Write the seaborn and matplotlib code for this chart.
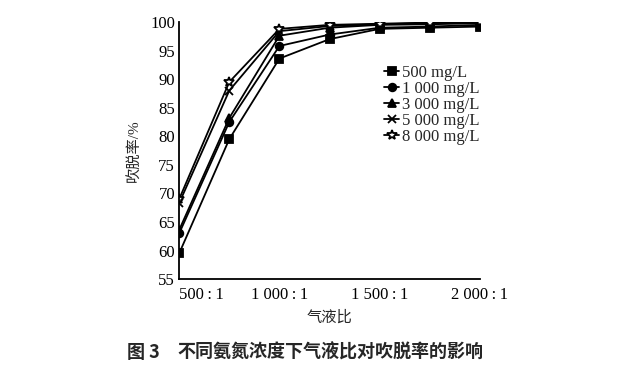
import numpy as np
import pandas as pd
import matplotlib
matplotlib.use("Agg")
import matplotlib.pyplot as plt
import seaborn as sns

# gas/liquid ratio (x:1)
ratio = [500, 750, 1000, 1250, 1500, 1750, 2000]
series_names = ["500 mg/L", "1 000 mg/L", "3 000 mg/L", "5 000 mg/L", "8 000 mg/L"]
rate_500 = [59.5, 79.5, 93.6, 97.0, 98.8, 99.0, 99.2]
rate_1000 = [63.0, 82.5, 95.8, 97.8, 99.0, 99.2, 99.5]
rate_3000 = [63.6, 83.2, 97.6, 99.0, 99.5, 99.6, 99.8]
rate_5000 = [68.3, 88.0, 98.4, 99.3, 99.6, 99.8, 100.0]
rate_8000 = [69.0, 89.5, 98.8, 99.5, 99.7, 99.9, 100.0]

xtick_labels = ["500\u2009:\u20091", "", "1 000\u2009:\u20091", "",
                "1 500\u2009:\u20091", "", "2 000\u2009:\u20091"]

df = pd.DataFrame({
    "ratio": ratio * 5,
    "rate": rate_500 + rate_1000 + rate_3000 + rate_5000 + rate_8000,
    "series": np.repeat(series_names, len(ratio)),
})

sns.set_style("white")
plt.rcParams["font.family"] = ["Liberation Serif", "Noto Sans CJK SC", "DejaVu Sans"]

fig = plt.figure(figsize=(6.2, 3.86), dpi=100)
ax = fig.add_axes([0.289, 0.277, 0.485, 0.666])

markers = ["s", "o", "^", "x", "*"]
for name, m in zip(series_names, markers):
    sub = df[df["series"] == name]
    face = "white" if m == "*" else "black"
    sns.lineplot(data=sub, x="ratio", y="rate", color="black", marker=m,
                 linewidth=1.3, markersize=7 if m == "*" else 5.5,
                 markeredgewidth=1.3, markeredgecolor="black",
                 markerfacecolor=face, label=name, ax=ax)

ax.set_xlim(500, 2000)
ax.set_ylim(55, 100)
ax.set_yticks(range(55, 101, 5))
ax.set_xticks(range(500, 2001, 250))
ax.set_xticklabels(xtick_labels)
ax.tick_params(direction="in", length=4, width=1, labelsize=12, colors="black")
ax.tick_params(axis="x", pad=6)
ax.tick_params(axis="y", pad=3)
# first label sits to the right of its tick, as in the original
ax.get_xticklabels()[0].set_horizontalalignment("left")
for s in ["top", "right"]:
    ax.spines[s].set_visible(False)
for s in ["left", "bottom"]:
    ax.spines[s].set_color("black")
    ax.spines[s].set_linewidth(1.3)

ax.set_xlabel("气液比", fontsize=11, labelpad=5)
ax.set_ylabel("吹脱率/%", fontsize=11, labelpad=6)

ax.legend(loc="upper left", bbox_to_anchor=(0.66, 0.86), frameon=False,
          fontsize=12, handlelength=0.9, handletextpad=0.15,
          labelspacing=0.0, borderaxespad=0)

cap_y = 1 - 352 / 386
fig.text(127 / 620, cap_y, "图 3", fontsize=13, fontweight="bold",
         va="center", family=["Noto Sans CJK SC"])
fig.text(177 / 620, cap_y, "不同氨氮浓度下气液比对吹脱率的影响",
         fontsize=13, fontweight="bold", va="center",
         family=["Noto Sans CJK SC"])

fig.savefig("out.png", dpi=100)
